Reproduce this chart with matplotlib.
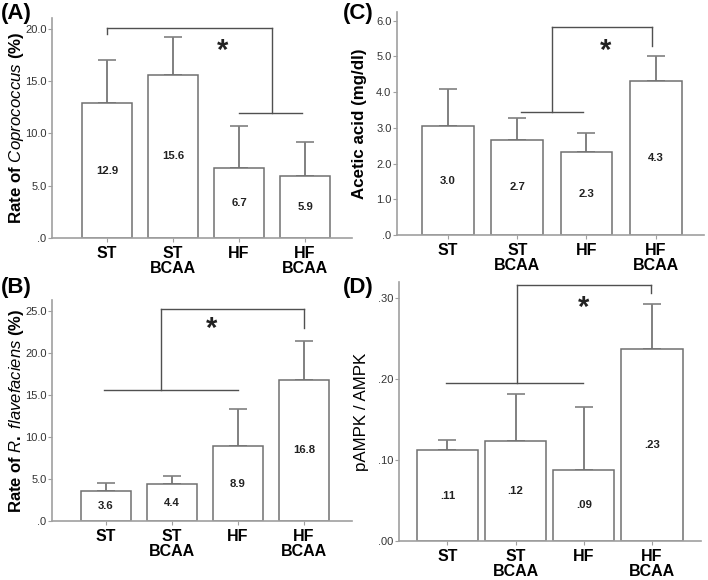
import numpy as np
import matplotlib.pyplot as plt

plt.rcParams['font.family'] = ['Liberation Sans', 'DejaVu Sans']
plt.rcParams['mathtext.fontset'] = 'custom'
plt.rcParams['mathtext.rm'] = 'Liberation Sans:bold'
plt.rcParams['mathtext.it'] = 'Liberation Sans:italic'

groups = ['ST', 'ST\nBCAA', 'HF', 'HF\nBCAA']

copro = [12.9, 15.6, 6.7, 5.9]
copro_err = [4.1, 3.6, 4.0, 3.3]
copro_lbl = ['12.9', '15.6', '6.7', '5.9']

rflav = [3.6, 4.4, 8.9, 16.8]
rflav_err = [0.95, 0.9, 4.45, 4.6]
rflav_lbl = ['3.6', '4.4', '8.9', '16.8']

acetic = [3.05, 2.66, 2.32, 4.3]
acetic_err = [1.03, 0.62, 0.54, 0.72]
acetic_lbl = ['3.0', '2.7', '2.3', '4.3']

ampk = [0.112, 0.124, 0.088, 0.237]
ampk_err = [0.013, 0.058, 0.077, 0.056]
ampk_lbl = ['.11', '.12', '.09', '.23']

W, H = 708, 580
fig = plt.figure(figsize=(W / 100, H / 100), dpi=100)


def box(l, r, b, t):
    return [l / W, 1 - b / H, (r - l) / W, (b - t) / H]


edge = '#707070'
spine_c = '#a0a0a0'
line_c = '#505050'


def panel(rect, vals, errs, lbls, ylim, yticks, yfmt, xlim, width,
          ylabel, ylw, ysize, lx):
    ax = fig.add_axes(rect)
    x = np.arange(len(vals))
    ax.bar(x, vals, width=width, color='white', edgecolor=edge, linewidth=1.1, zorder=2)
    ax.errorbar(x, vals, yerr=[np.zeros(len(errs)), errs], fmt='none',
                ecolor='#808080', elinewidth=1.4, capsize=6.5, capthick=1.2, zorder=1)
    for xi, v, s in zip(x, vals, lbls):
        ax.text(xi, v / 2, s, ha='center', va='center', fontsize=8.2,
                fontweight='bold', color='#222222', zorder=3)
    ax.set_xlim(*xlim)
    ax.set_ylim(*ylim)
    ax.set_yticks(yticks)
    ax.set_yticklabels([yfmt(t) for t in yticks], fontsize=8, color='#333333')
    ax.set_xticks(x)
    ax.set_xticklabels(groups, fontsize=11.5, fontweight='bold', linespacing=0.95)
    ax.tick_params(axis='x', length=3, color=spine_c, pad=3)
    ax.tick_params(axis='y', length=3, color=spine_c, pad=1)
    for s in ['top', 'right']:
        ax.spines[s].set_visible(False)
    for s in ['left', 'bottom']:
        ax.spines[s].set_color(spine_c)
        ax.spines[s].set_linewidth(1.2)
    ax.set_ylabel(ylabel, fontsize=ysize, fontweight=ylw)
    ax.yaxis.set_label_coords(lx, 0.5)
    return ax


def bracket(ax, segs, star):
    for (xs, ys) in segs:
        ax.plot(xs, ys, color=line_c, lw=1.0, clip_on=False, zorder=4)
    ax.text(star[0], star[1], '*', ha='center', va='center', fontsize=21,
            fontweight='bold', color='#222222', clip_on=False)


# (A)
axA = panel(box(52, 352, 238, 18), copro, copro_err, copro_lbl, (0, 21.05),
            [0, 5, 10, 15, 20], lambda t: '.0' if t == 0 else f'{t:.1f}',
            (-0.83, 3.71), 0.75, r'Rate of $\mathit{Coprococcus}$ (%)', 'bold',
            12.2, -0.085)
bracket(axA, [([0, 0], [19.5, 20.1]), ([0, 2.5], [20.1, 20.1]),
              ([2.5, 2.5], [20.1, 12.0]), ([2.0, 2.95], [12.0, 12.0])],
        (1.75, 17.9))

# (B)
axB = panel(box(52, 352, 521, 300), rflav, rflav_err, rflav_lbl, (0, 26.3),
            [0, 5, 10, 15, 20, 25], lambda t: '.0' if t == 0 else f'{t:.1f}',
            (-0.82, 3.73), 0.75, r'Rate of $\mathit{R.\ flavefaciens}$ (%)', 'bold',
            12.0, -0.085)
bracket(axB, [([-0.03, 2.0], [15.6, 15.6]), ([0.83, 0.83], [15.6, 25.25]),
              ([0.83, 3.0], [25.25, 25.25]), ([3.0, 3.0], [25.25, 23.0])],
        (1.6, 22.9))

# (C)
axC = panel(box(397, 704, 235, 12), acetic, acetic_err, acetic_lbl, (0, 6.24),
            [0, 1, 2, 3, 4, 5, 6], lambda t: '.0' if t == 0 else f'{t:.1f}',
            (-0.74, 3.7), 0.75, 'Acetic acid (mg/dl)', 'bold', 12.2, -0.098)
bracket(axC, [([1.05, 1.95], [3.43, 3.43]), ([1.5, 1.5], [3.43, 5.83]),
              ([1.5, 2.95], [5.83, 5.83]), ([2.95, 2.95], [5.83, 5.3])],
        (2.28, 5.15))

# (D)
axD = panel(box(399, 701, 541, 282), ampk, ampk_err, ampk_lbl, (0, 0.32),
            [0, 0.1, 0.2, 0.3], lambda t: f'{t:.2f}'[1:],
            (-0.71, 3.72), 0.9, 'pAMPK / AMPK', 'normal', 12.2, -0.1)
bracket(axD, [([-0.02, 1.99], [0.195, 0.195]), ([1.02, 1.02], [0.195, 0.316]),
              ([1.02, 2.98], [0.316, 0.316]), ([2.98, 2.98], [0.316, 0.306])],
        (1.99, 0.288))

for s, (x, y) in zip(['(A)', '(B)', '(C)', '(D)'],
                     [(1, 3), (1, 277), (343, 3), (343, 277)]):
    fig.text(x / W, 1 - y / H, s, fontsize=16, fontweight='bold', va='top', ha='left')

fig.savefig('out.png', dpi=100)
